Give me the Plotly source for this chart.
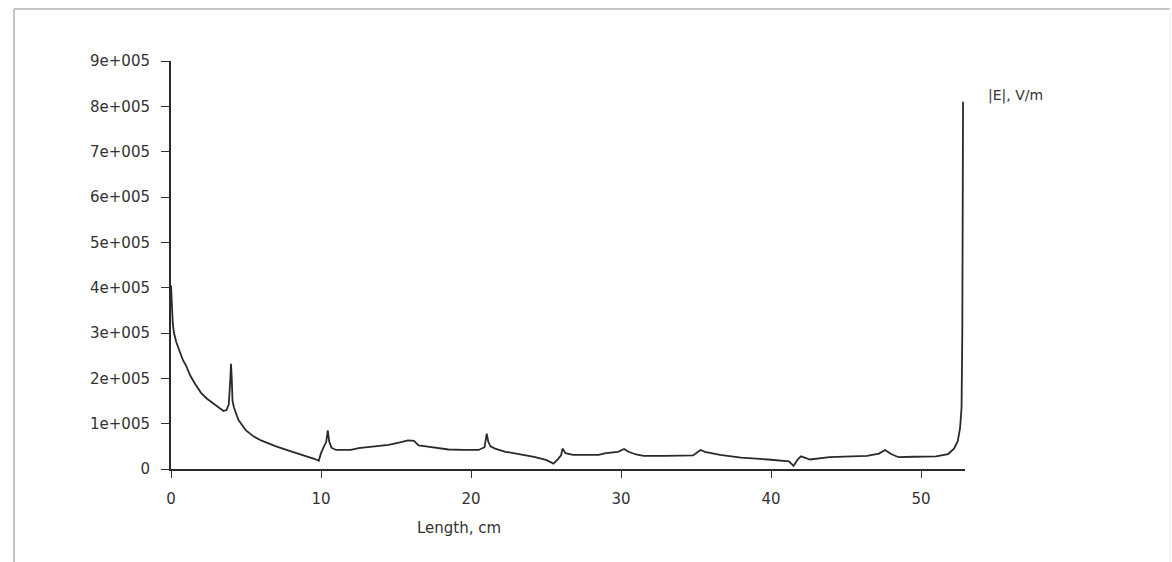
import plotly.graph_objects as go

# Data
length_cm = [0, 0.05, 0.12, 0.2, 0.35, 0.55, 0.8, 1.0, 1.3, 1.6, 2.0, 2.4, 2.8, 3.2, 3.5, 3.7,
             3.85, 3.95, 4.0, 4.05, 4.1, 4.2, 4.5, 5.0, 5.5, 6.0, 6.5, 7.0, 8.0, 9.0, 9.6, 9.85,
             10.0, 10.2, 10.35, 10.45, 10.55, 10.7, 11.0, 11.5, 12.0, 12.5, 13.5, 14.5, 15.2,
             15.8, 16.2, 16.5, 17.0, 17.5, 18.5, 19.5, 20.5, 20.9, 21.05, 21.15, 21.3, 21.6,
             22.3, 23.2, 24.2, 25.0, 25.5, 25.8, 26.0, 26.1, 26.3, 26.8, 27.5, 28.5, 29.0, 29.8,
             30.2, 30.5, 31.0, 31.5, 33.0, 34.8, 35.3, 35.6, 36.6, 38.0, 39.8, 41.2, 41.5, 41.8,
             42.0, 42.6, 43.9, 45.0, 46.4, 47.2, 47.6, 48.0, 48.5, 49.5, 51.0, 51.8, 52.2, 52.45,
             52.6, 52.7, 52.75, 52.8]
e_field = [405000, 360000, 320000, 300000, 280000, 262000, 240000, 228000, 205000, 188000,
           168000, 155000, 145000, 135000, 128000, 130000, 142000, 195000, 232000, 200000,
           150000, 135000, 108000, 85000, 72000, 63000, 56000, 50000, 39000, 29000, 22000,
           18000, 35000, 50000, 60000, 85000, 60000, 47000, 42000, 42000, 42000, 46000, 49000,
           53000, 58000, 63000, 62000, 52000, 50000, 48000, 43000, 42000, 42000, 48000, 78000,
           60000, 50000, 45000, 38000, 33000, 27000, 20000, 12000, 22000, 30000, 45000, 35000,
           31000, 31000, 31000, 35000, 38000, 44000, 38000, 32000, 29000, 29000, 30000, 42000,
           38000, 31000, 25000, 21000, 17000, 7000, 22000, 28000, 21000, 26000, 27000, 29000,
           34000, 42000, 33000, 26000, 27000, 28000, 33000, 45000, 62000, 90000, 135000,
           300000, 810000]

x_ticks = [0, 10, 20, 30, 40, 50]
y_ticks = [0, 100000, 200000, 300000, 400000, 500000, 600000, 700000, 800000, 900000]
y_tick_text = ["0", "1e+005", "2e+005", "3e+005", "4e+005", "5e+005",
               "6e+005", "7e+005", "8e+005", "9e+005"]

FONT = "DejaVu Sans"
TXT = "#333333"

fig = go.Figure()
fig.add_trace(go.Scatter(x=length_cm, y=e_field, mode="lines",
                         line=dict(color="#2a2a2a", width=1.8), showlegend=False))

W, H = 1172, 562
L, R, T, B = 171, 207, 61, 93
pw, ph = W - L - R, H - T - B

fig.update_layout(
    width=W, height=H,
    margin=dict(l=L, r=R, t=T, b=B, pad=0),
    paper_bgcolor="white", plot_bgcolor="white",
    font=dict(family=FONT, size=15, color=TXT),
    xaxis=dict(range=[0, 52.93], tickvals=x_ticks, ticks="outside", ticklen=7,
               tickcolor="#333", showline=True, linecolor="#2a2a2a", linewidth=2,
               showgrid=False, zeroline=False, ticklabelstandoff=8,
               tickfont=dict(size=15, color=TXT)),
    yaxis=dict(range=[0, 900000], tickvals=y_ticks, ticktext=y_tick_text,
               ticks="outside", ticklen=8, tickcolor="#333", showline=True,
               linecolor="#2a2a2a", linewidth=2, showgrid=False, zeroline=False,
               ticklabelstandoff=8, tickfont=dict(size=15, color=TXT)),
    annotations=[
        dict(text="Length, cm", xref="paper", yref="paper",
             x=(459 - L) / pw, y=-(528 - (T + ph)) / ph, xanchor="center", yanchor="middle",
             showarrow=False, font=dict(size=15, color=TXT)),
        dict(text="|E|, V/m", xref="paper", yref="paper",
             x=(986 - L) / pw, y=1 - (95 - T) / ph, xanchor="left", yanchor="middle",
             showarrow=False, font=dict(size=14, color=TXT)),
    ],
    shapes=[
        dict(type="line", xref="paper", yref="paper",
             x0=(14 - L) / pw, x1=(14 - L) / pw, y0=1 + (T - 9) / ph, y1=-(B + 5) / ph,
             line=dict(color="#c4c4c4", width=2)),
        dict(type="line", xref="paper", yref="paper",
             x0=(14 - L) / pw, x1=(1170 - L) / pw, y0=1 + (T - 9) / ph, y1=1 + (T - 9) / ph,
             line=dict(color="#c4c4c4", width=2)),
        dict(type="line", xref="paper", yref="paper",
             x0=(1170 - L) / pw, x1=(1170 - L) / pw, y0=1 + (T - 9) / ph, y1=-(B + 5) / ph,
             line=dict(color="#ececec", width=1)),
    ],
)

fig.write_html("out.html")
